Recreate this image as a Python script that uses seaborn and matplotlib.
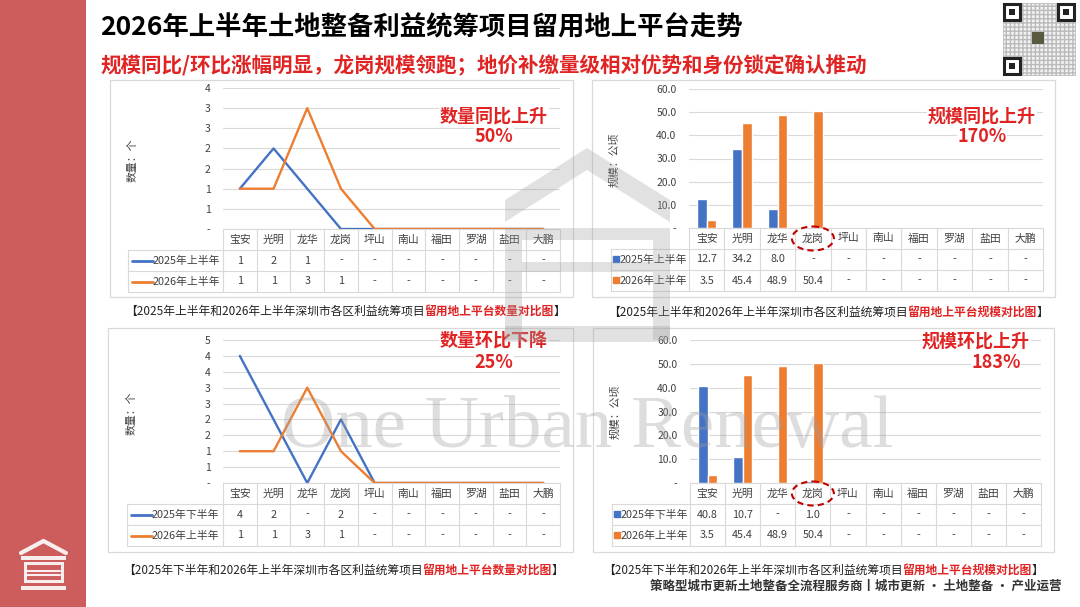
import numpy as np
import pandas as pd
import matplotlib
matplotlib.use('Agg')
import matplotlib.pyplot as plt
import matplotlib.patches as mpatches
import seaborn as sns

sns.set_theme(style='white')
plt.rcParams['font.family'] = ['Noto Sans CJK SC', 'DejaVu Sans']
plt.rcParams['axes.unicode_minus'] = False

# 数据
districts = ['宝安', '光明', '龙华', '龙岗', '坪山', '南山', '福田', '罗湖', '盐田', '大鹏']
cnt_2025h1 = [1, 2, 1, 0, 0, 0, 0, 0, 0, 0]
cnt_2026h1 = [1, 1, 3, 1, 0, 0, 0, 0, 0, 0]
cnt_2025h2 = [4, 2, 0, 2, 0, 0, 0, 0, 0, 0]
area_2025h1 = [12.7, 34.2, 8.0, 0, 0, 0, 0, 0, 0, 0]
area_2026h1 = [3.5, 45.4, 48.9, 50.4, 0, 0, 0, 0, 0, 0]
area_2025h2 = [40.8, 10.7, 0, 1.0, 0, 0, 0, 0, 0, 0]

lbl_2025h1 = '2025年上半年'
lbl_2025h2 = '2025年下半年'
lbl_2026h1 = '2026年上半年'

title = '2026年上半年土地整备利益统筹项目留用地上平台走势'
subtitle = '规模同比/环比涨幅明显，龙岗规模领跑；地价补缴量级相对优势和身份锁定确认推动'
footer = '策略型城市更新土地整备全流程服务商丨城市更新 • 土地整备 • 产业运营'

BLUE = '#4472C4'
ORANGE = '#ED7D31'
RED = '#E02424'
SIDE = '#CD5C5C'
GRID = '#D9D9D9'

W, H = 1080, 607
fig = plt.figure(figsize=(W / 100, H / 100), dpi=100)


def px_axes(x0, y0, x1, y1, **kw):
    return fig.add_axes([x0 / W, 1 - y1 / H, (x1 - x0) / W, (y1 - y0) / H], **kw)


def overlay(z):
    a = px_axes(0, 0, W, H, zorder=z)
    a.set_xlim(0, W)
    a.set_ylim(H, 0)
    a.axis('off')
    a.patch.set_alpha(0)
    return a


bg = overlay(-1)
top = overlay(5)

# 左侧红条和标志
bg.add_patch(mpatches.Rectangle((0, 0), 86, H, color=SIDE, lw=0))
bg.plot([21, 43.5, 66], [553, 541, 553], color='white', lw=3, solid_joinstyle='miter', alpha=0.9)
bg.add_patch(mpatches.Rectangle((21, 556), 45, 3.5, color='white', alpha=0.9, lw=0))
bg.add_patch(mpatches.Rectangle((25, 563), 37, 18, fill=False, ec='white', lw=2.2, alpha=0.9))
bg.plot([27, 60], [571, 571], color='white', lw=1.5, alpha=0.9)
bg.plot([27, 60], [575, 575], color='white', lw=1.5, alpha=0.9)
bg.add_patch(mpatches.Rectangle((21, 586), 45, 3.5, color='white', alpha=0.9, lw=0))

# 标题
bg.text(100, 28, title, fontsize=19, fontweight='bold', color='black', va='center', ha='left')
bg.text(100, 66, subtitle, fontsize=14.8, fontweight='bold', color=RED, va='center', ha='left')

# 二维码占位
bg.add_patch(mpatches.Rectangle((1003, 3), 72, 72, fc='#f2f2f2', ec='#bbbbbb', lw=0.6, hatch='++++'))
for qx, qy in [(1004, 4), (1058, 4), (1004, 58)]:
    bg.add_patch(mpatches.Rectangle((qx, qy), 16, 16, fc='white', ec='#222222', lw=2.2))
    bg.add_patch(mpatches.Rectangle((qx + 5, qy + 5), 6, 6, fc='#222222', lw=0))
bg.add_patch(mpatches.Rectangle((1032, 32), 12, 12, fc='#5a5a40', lw=0))


def caption(x, y, black, red):
    t1 = bg.text(x, y, '【' + black, fontsize=8.5, color='#222222', va='center', ha='left')
    t2 = bg.annotate(red, xy=(1, 0), xycoords=t1, va='bottom', ha='left',
                     fontsize=8.5, color=RED, fontweight='bold')
    bg.annotate('】', xy=(1, 0), xycoords=t2, va='bottom', ha='left', fontsize=8.5, color='#222222')


def count_fmt(v):
    return '-' if v == 0 else str(int(np.floor(v + 0.5)))


def area_fmt(v):
    return '-' if v == 0 else f'{v:.1f}'


def draw_panel(box, plot, tx0, ylab_xy, ylab, kind, s1, s2, n1, n2, ymax, ystep,
               fmt, vfmt, annot, cap, circle=False, rh=21):
    # 外框
    bx0, by0, bx1, by1 = box
    bg.add_patch(mpatches.Rectangle((bx0, by0), bx1 - bx0, by1 - by0, fill=False, ec=GRID, lw=0.9))

    x0, y0, x1, y1 = plot
    ax = px_axes(x0, y0, x1, y1)
    ax.set_facecolor('none')
    df = pd.DataFrame({'区': districts * 2, '值': s1 + s2, '期': [n1] * 10 + [n2] * 10})
    if kind == 'line':
        sns.lineplot(data=df, x='区', y='值', hue='期', palette=[BLUE, ORANGE], lw=1.7,
                     legend=False, sort=False, ax=ax)
    else:
        sns.barplot(data=df, x='区', y='值', hue='期', palette=[BLUE, ORANGE], width=0.55,
                    saturation=1, legend=False, ax=ax)
    ax.set_xlim(-0.5, 9.5)
    ax.set_ylim(0, ymax)
    ticks = np.arange(0, ymax + 1e-9, ystep)
    ax.set_yticks(ticks)
    ax.set_yticklabels([fmt(t) for t in ticks])
    ax.set_xticks([])
    ax.set_xlabel('')
    ax.set_ylabel('')
    ax.grid(axis='y', color=GRID, lw=0.8)
    ax.set_axisbelow(True)
    for s in ax.spines.values():
        s.set_visible(False)
    ax.tick_params(axis='y', length=0, pad=9, labelsize=7.5, colors='#404040')

    bg.text(ylab_xy[0], ylab_xy[1], ylab, rotation=90, fontsize=7.8, color='#404040',
            va='center', ha='center')

    # 数据表
    cw = (x1 - x0) / 10
    for k in range(11):
        bg.plot([x0 + k * cw] * 2, [y1, y1 + 3 * rh], color=GRID, lw=0.8)
    bg.plot([x0, x1], [y1, y1], color=GRID, lw=0.8)
    for r in (1, 2, 3):
        bg.plot([tx0, x1], [y1 + r * rh] * 2, color=GRID, lw=0.8)
    bg.plot([tx0, tx0], [y1 + rh, y1 + 3 * rh], color=GRID, lw=0.8)
    for i, d in enumerate(districts):
        cx = x0 + (i + 0.5) * cw
        bg.text(cx, y1 + 0.5 * rh, d, fontsize=7.8, color='#404040', ha='center', va='center')
        bg.text(cx, y1 + 1.5 * rh, vfmt(s1[i]), fontsize=7.8, color='#404040', ha='center', va='center')
        bg.text(cx, y1 + 2.5 * rh, vfmt(s2[i]), fontsize=7.8, color='#404040', ha='center', va='center')
    for r, (name, col) in enumerate([(n1, BLUE), (n2, ORANGE)]):
        yc = y1 + (1.5 + r) * rh
        if kind == 'line':
            bg.plot([tx0 + 4, tx0 + 25], [yc, yc], color=col, lw=2)
            bg.text(tx0 + 25, yc, name, fontsize=7.8, color='#404040', ha='left', va='center')
        else:
            bg.plot([tx0 + 5], [yc - 1], marker='s', ms=4.5, color=col, lw=0)
            bg.text(tx0 + 9, yc, name, fontsize=7.8, color='#404040', ha='left', va='center')

    if circle:
        cx = x0 + 3.5 * cw
        top.add_patch(mpatches.Ellipse((cx, y1 + 0.5 * rh), 42, 24, fill=False, ec='#C00000',
                                       lw=1.5, ls=(0, (3, 2))))

    for (ax_, ay_, s) in annot:
        top.text(ax_, ay_, s, fontsize=13, fontweight='bold', color=RED, ha='center', va='center',
                 bbox=dict(fc='white', ec='none', pad=0.5))

    caption(cap[0], cap[1], cap[2], cap[3])


draw_panel((110, 80, 573, 297), (223, 88, 560, 229), 128, (133, 160), '数量：个', 'line',
           cnt_2025h1, cnt_2026h1, lbl_2025h1, lbl_2026h1, 3.5, 0.5, count_fmt, count_fmt,
           [(494, 116, '数量同比上升'), (494, 137, '50%')],
           (125, 311, '2025年上半年和2026年上半年深圳市各区利益统筹项目', '留用地上平台数量对比图'))

draw_panel((592, 80, 1055, 297), (689, 89, 1043, 228), 611, (614, 160), '规模：公顷', 'bar',
           area_2025h1, area_2026h1, lbl_2025h1, lbl_2026h1, 60, 10, area_fmt, area_fmt,
           [(982, 116, '规模同比上升'), (982, 137, '170%')],
           (608, 312, '2025年上半年和2026年上半年深圳市各区利益统筹项目', '留用地上平台规模对比图'),
           circle=True)

draw_panel((108, 328, 573, 552), (223, 340, 560, 483), 127, (132, 413), '数量：个', 'line',
           cnt_2025h2, cnt_2026h1, lbl_2025h2, lbl_2026h1, 4.5, 0.5, count_fmt, count_fmt,
           [(494, 341, '数量环比下降'), (494, 362, '25%')],
           (123, 570, '2025年下半年和2026年上半年深圳市各区利益统筹项目', '留用地上平台数量对比图'))

draw_panel((593, 328, 1054, 552), (690, 340, 1041, 483), 612, (615, 412), '规模：公顷', 'bar',
           area_2025h2, area_2026h1, lbl_2025h2, lbl_2026h1, 60, 10, area_fmt, area_fmt,
           [(976, 341, '规模环比上升'), (996, 362, '183%')],
           (603, 570, '2025年下半年和2026年上半年深圳市各区利益统筹项目', '留用地上平台规模对比图'),
           circle=True)

bg.text(1062, 586, footer, fontsize=9, fontweight='bold', color='#333333', ha='right', va='center')

# 水印
wm = overlay(10)
WMC = '#9e9e9e'
WMA = 0.3
wm.add_patch(mpatches.Polygon([(505, 200), (587, 148), (670, 200), (670, 222), (587, 170), (505, 222)],
                              closed=True, fc=WMC, alpha=WMA, lw=0))
for rx, ry, rw, rhh in [(505, 228, 165, 12), (505, 240, 17, 100), (653, 240, 17, 100),
                        (522, 262, 131, 10), (505, 326, 165, 16)]:
    wm.add_patch(mpatches.Rectangle((rx, ry), rw, rhh, fc=WMC, alpha=WMA, lw=0))
wm.text(587, 447, 'One Urban Renewal', family=['Liberation Serif', 'DejaVu Serif'], fontsize=54,
        color=WMC, alpha=0.35, ha='center', va='baseline')

fig.savefig('out.png', dpi=100)
